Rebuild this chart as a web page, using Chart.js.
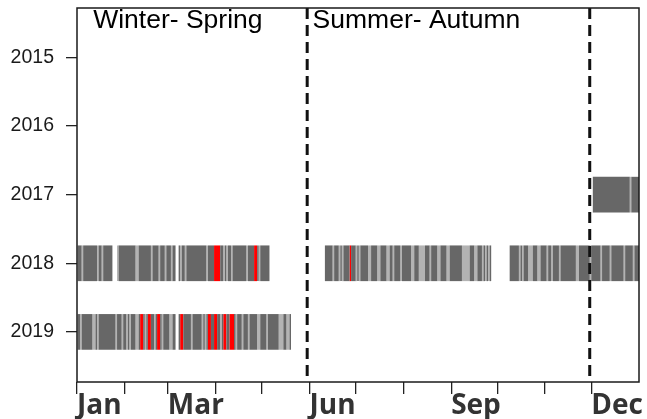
<!DOCTYPE html>
<html>
<head>
<meta charset="utf-8">
<script src="https://cdn.jsdelivr.net/npm/chart.js@4.4.0/dist/chart.umd.min.js"></script>
<style>
  html, body { margin: 0; padding: 0; background: #ffffff; }
  #wrap { width: 647px; height: 419px; position: relative; }
</style>
</head>
<body>
<div id="wrap"><canvas id="c"></canvas></div>
<script>
// Years on the vertical axis (top to bottom)
const years = [2015, 2016, 2017, 2018, 2019];

// Month starts (day of year) and the labels printed under them
const monthStarts = [0, 31, 59, 90, 120, 151, 181, 212, 243, 273, 304, 334];
const monthLabels = ['Jan', '', 'Mar', '', '', 'Jun', '', '', 'Sep', '', '', 'Dec'];

// Season boundaries (day of year), season names and where each name starts
const seasonBreaks = [149.5, 333];
const seasonNames = ['Winter- Spring', 'Summer- Autumn'];
const seasonLabelDays = [10.5, 153];

// Spans of recorded days per year: [firstDay, lastDay + 1)
const cover2017 = [[335, 365]];
const cover2018 = [[0, 23], [26, 64], [66, 125], [161, 269], [281, 365]];
const cover2019 = [[0, 64], [66, 139]];

// Days in the light class
const light2017 = [359];
const light2018 = [3, 13, 16, 26, 38, 39, 48, 53, 57, 61, 67, 70, 84, 95, 97, 100, 110, 118,
  166, 170, 172, 181, 183, 189, 190, 195, 196, 201, 202, 205, 210, 217, 218, 222, 223, 224, 225,
  229, 234, 235, 240, 241, 250, 251, 252, 253, 254, 258, 259, 263, 265, 267,
  287, 289, 293, 294, 295, 299, 300, 305, 308, 313, 324, 325, 333, 340, 346, 355, 361];
const light2019 = [2, 10, 11, 13, 25, 29, 32, 34, 38, 39, 44, 50, 55, 60, 61,
  74, 81, 83, 93, 103, 107, 111, 117, 118, 123, 131, 132, 133, 136, 137];

// Days in the red class
const red2017 = [];
const red2018 = [89, 90, 91, 92, 115, 116, 177];
const red2019 = [41, 42, 46, 47, 52, 53, 67, 68, 85, 86, 89, 90, 95, 96, 99, 100, 101];

const rows = [
  { year: 2017, cover: cover2017, light: light2017, red: red2017 },
  { year: 2018, cover: cover2018, light: light2018, red: red2018 },
  { year: 2019, cover: cover2019, light: light2019, red: red2019 }
];

// Merge consecutive days of the same class into floating bars
const classBars = [[], [], []];
rows.forEach(row => {
  const lightSet = new Set(row.light);
  const redSet = new Set(row.red);
  const classOf = d => redSet.has(d) ? 2 : (lightSet.has(d) ? 1 : 0);
  row.cover.forEach(([a, b]) => {
    let start = a, cls = classOf(a);
    for (let d = a + 1; d <= b; d++) {
      const c = d < b ? classOf(d) : -1;
      if (c !== cls) {
        classBars[cls].push({ x: [start, d], y: row.year });
        start = d; cls = c;
      }
    }
  });
});

const classColors = ['#676767', '#b3b3b3', '#ff0000'];

const framePlugin = {
  id: 'frame',
  afterDatasetsDraw(chart) {
    const { ctx, chartArea: a, scales: { x } } = chart;
    ctx.save();
    // season dividers
    ctx.strokeStyle = '#111111';
    ctx.lineWidth = 3;
    ctx.setLineDash([11, 6]);
    seasonBreaks.forEach(d => {
      const px = x.getPixelForValue(d);
      ctx.beginPath();
      ctx.moveTo(px, a.top);
      ctx.lineTo(px, a.bottom);
      ctx.stroke();
    });
    ctx.setLineDash([]);
    // plot frame
    ctx.strokeStyle = '#1a1a1a';
    ctx.lineWidth = 1.5;
    ctx.strokeRect(a.left, a.top, a.right - a.left, a.bottom - a.top);
    // season names
    ctx.fillStyle = '#000000';
    ctx.font = '26.5px "Liberation Sans", Arial, sans-serif';
    ctx.textAlign = 'left';
    ctx.textBaseline = 'alphabetic';
    seasonNames.forEach((name, i) => {
      ctx.fillText(name, x.getPixelForValue(seasonLabelDays[i]), a.top + 20);
    });
    ctx.restore();
  }
};

new Chart(document.getElementById('c'), {
  type: 'bar',
  data: {
    datasets: classBars.map((bars, i) => ({
      label: ['dark', 'light', 'red'][i],
      data: bars,
      backgroundColor: classColors[i],
      borderWidth: 0,
      grouped: false,
      categoryPercentage: 1,
      barPercentage: 0.52
    }))
  },
  options: {
    indexAxis: 'y',
    responsive: true,
    maintainAspectRatio: false,
    animation: false,
    events: [],
    layout: { padding: { top: 8, right: 8, left: 0, bottom: 0 } },
    plugins: { legend: { display: false }, tooltip: { enabled: false }, title: { display: false } },
    scales: {
      x: {
        type: 'linear',
        position: 'bottom',
        min: 0,
        max: 365,
        offset: false,
        afterBuildTicks: s => { s.ticks = monthStarts.map(v => ({ value: v })); },
        afterFit: s => { s.height = 37; s.paddingLeft = 0; s.paddingRight = 0; },
        grid: { drawOnChartArea: false, drawTicks: true, tickLength: 12, color: '#222222', lineWidth: 1.3, offset: false },
        border: { display: false },
        ticks: {
          autoSkip: false,
          maxRotation: 0,
          minRotation: 0,
          align: 'start',
          padding: -2,
          color: '#333333',
          font: { family: '"Open Sans", sans-serif', size: 28, weight: 'bold', lineHeight: 1 },
          callback: (v, i) => monthLabels[i]
        }
      },
      y: {
        type: 'linear',
        reverse: true,
        min: 2014.28,
        max: 2019.73,
        offset: false,
        afterBuildTicks: s => { s.ticks = years.map(v => ({ value: v })); },
        afterFit: s => { s.width = 77; s.paddingTop = 0; s.paddingBottom = 0; },
        grid: { drawOnChartArea: false, drawTicks: true, tickLength: 11, color: '#222222', lineWidth: 1.3, offset: false },
        border: { display: false },
        ticks: {
          padding: 12,
          color: '#1a1a1a',
          font: { family: '"Liberation Sans", Arial, sans-serif', size: 19.5 },
          callback: v => String(v)
        }
      }
    }
  },
  plugins: [framePlugin]
});
</script>
</body>
</html>
